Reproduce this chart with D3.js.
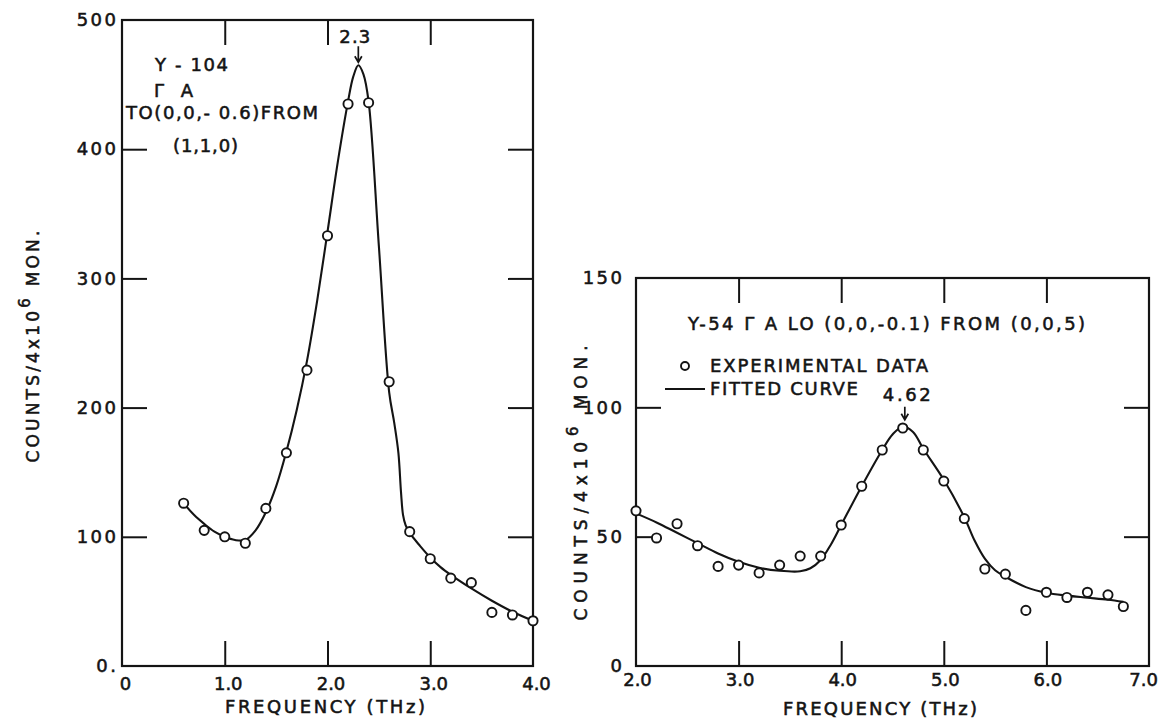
<!DOCTYPE html>
<html>
<head>
<meta charset="utf-8">
<script src="https://cdn.jsdelivr.net/npm/d3@7"></script>
<style>
  body { margin: 0; background: #fff; }
  svg text { font-family: "DejaVu Sans", sans-serif; fill: #141414; stroke: #141414; stroke-width: 0.55px; }
</style>
</head>
<body>
<svg id="fig" width="1159" height="721"></svg>
<script>
// ---- Panel A: Y-104, ΓA  TO(0,0,-0.6) from (1,1,0) ----
const leftFreq   = [0.6, 0.8, 1.0, 1.2, 1.4, 1.6, 1.8, 2.0, 2.2, 2.4, 2.6, 2.8, 3.0, 3.2, 3.4, 3.6, 3.8, 4.0];
const leftCounts = [126, 105, 100, 95, 122, 165, 229, 333, 435, 436, 220, 104, 83, 68, 64.5, 41.5, 39.5, 35];
const leftFitFreq   = [0.6, 0.7, 0.8, 0.9, 1.0, 1.1, 1.2, 1.3, 1.4, 1.5, 1.6, 1.7, 1.8, 1.9, 2.0, 2.1, 2.2, 2.25, 2.3, 2.35, 2.4, 2.5, 2.6, 2.65, 2.69, 2.715, 2.735, 2.76, 2.8, 2.9, 3.0, 3.1, 3.2, 3.4, 3.6, 3.8, 4.0];
const leftFitCounts = [126, 117, 110, 104, 100, 97.5, 97.5, 105, 119, 139, 166, 198, 236, 283, 336, 390, 437, 456, 465, 458, 437, 325, 212, 188, 165, 135, 117, 109, 103, 93, 84, 76.5, 70.5, 60, 50.5, 42, 35];
const leftPeak = 2.3;
const leftXTicks = [0, 1, 2, 3, 4];
const leftXLabels = ["0", "1.0", "2.0", "3.0", "4.0"];
const leftYTicks = [0, 100, 200, 300, 400, 500];
const leftYLabels = ["0.", "100", "200", "300", "400", "500"];
const leftTitle = ["Y - 104", "Γ A", "TO(0,0,- 0.6)FROM", "(1,1,0)"];

// ---- Panel B: Y-54, ΓA  LO (0,0,-0.1) from (0,0,5) ----
const rightFreq   = [2.0, 2.2, 2.4, 2.6, 2.8, 3.0, 3.2, 3.4, 3.6, 3.8, 4.0, 4.2, 4.4, 4.6, 4.8, 5.0, 5.2, 5.4, 5.6, 5.8, 6.0, 6.2, 6.4, 6.6, 6.75];
const rightCounts = [60, 49.5, 55, 46.5, 38.5, 39, 36, 39, 42.5, 42.5, 54.5, 69.5, 83.5, 92, 83.5, 71.5, 57, 37.5, 35.5, 21.5, 28.5, 26.5, 28.5, 27.5, 23];
const rightFitFreq   = [2.0, 2.2, 2.4, 2.6, 2.8, 3.0, 3.2, 3.4, 3.6, 3.7, 3.8, 3.9, 4.0, 4.2, 4.4, 4.5, 4.6, 4.7, 4.8, 5.0, 5.2, 5.3, 5.4, 5.5, 5.6, 5.8, 6.0, 6.2, 6.4, 6.6, 6.75];
const rightFitCounts = [59, 55.5, 51.5, 47.5, 43.5, 40.3, 38, 36.8, 36.6, 37.8, 41, 47, 54.5, 69.5, 83.5, 89.5, 92.5, 90.5, 84, 72, 57.5, 48.5, 41.5, 37, 34.5, 30.5, 28.3, 27.2, 26.4, 25.6, 24.8];
const rightPeak = 4.62;
const rightXTicks = [2, 3, 4, 5, 6, 7];
const rightXLabels = ["2.0", "3.0", "4.0", "5.0", "6.0", "7.0"];
const rightYTicks = [0, 50, 100, 150];
const rightYLabels = ["0", "50", "100", "150"];
const rightTitle = "Y-54  Γ A  LO (0,0,-0.1) FROM (0,0,5)";
const legendLabels = ["EXPERIMENTAL DATA", "FITTED CURVE"];

const xTitle = "FREQUENCY (THz)";
const yTitleMain = "COUNTS/4x10", yTitleSup = "6", yTitleEnd = " MON.";
const ink = "#141414";
const W = 1159;

const svg = d3.select("#fig");

// spread a text's glyphs so its visible width equals `w`
function fitWidth(sel, w) {
  sel.each(function () {
    const n = this.textContent.length;
    const nat = this.getComputedTextLength();
    if (n > 1) d3.select(this).attr("letter-spacing", (w - nat) / (n - 1));
  });
  return sel;
}

function panel(cfg) {
  const g = svg.append("g");
  const x = d3.scaleLinear().domain(cfg.xDomain).range(cfg.xRange);
  const y = d3.scaleLinear().domain(cfg.yDomain).range(cfg.yRange);
  const [x0, x1] = cfg.xRange, [y0, y1] = cfg.yRange;

  // frame
  g.append("rect").attr("x", x0).attr("y", y1).attr("width", x1 - x0).attr("height", y0 - y1)
    .attr("fill", "none").attr("stroke", ink).attr("stroke-width", 2.2);

  // inward tick marks on all four sides
  const inner = cfg.xTicks.slice(1, -1), innerY = cfg.yTicks.slice(1, -1);
  const markAxes = [
    [d3.axisBottom(x).tickValues(inner), `translate(0,${y0})`],
    [d3.axisTop(x).tickValues(inner), `translate(0,${y1})`],
    [d3.axisLeft(y).tickValues(innerY), `translate(${x0},0)`],
    [d3.axisRight(y).tickValues(innerY), `translate(${x1},0)`]
  ];
  markAxes.forEach(([ax, tr]) => {
    const a = g.append("g").attr("transform", tr)
      .call(ax.tickSize(-cfg.tickLen).tickFormat(""));
    a.select(".domain").remove();
    a.selectAll("line").attr("stroke", ink).attr("stroke-width", 2);
  });

  // tick labels
  const xa = g.append("g").attr("transform", `translate(0,${y0})`)
    .call(d3.axisBottom(x).tickValues(cfg.xTicks).tickSize(0).tickPadding(cfg.xPad)
      .tickFormat((d, i) => cfg.xLabels[i]));
  xa.select(".domain").remove();
  xa.selectAll("text").attr("font-size", 18).attr("font-family", null).attr("fill", ink)
    .attr("dx", cfg.xLabelDx || 0);
  // keep the outermost label inside the page
  xa.selectAll("text").each(function () {
    const b = this.getBoundingClientRect();
    if (b.right > W - 1) d3.select(this).attr("dx", (cfg.xLabelDx || 0) - (b.right - (W - 1)));
  });

  const ya = g.append("g").attr("transform", `translate(${x0},0)`)
    .call(d3.axisLeft(y).tickValues(cfg.yTicks).tickSize(0).tickPadding(cfg.yPad)
      .tickFormat((d, i) => cfg.yLabels[i]));
  ya.select(".domain").remove();
  ya.selectAll("text").attr("font-size", 18).attr("font-family", null).attr("fill", ink)
    .attr("letter-spacing", 2.5).attr("dx", 2.5);

  // fitted curve
  const line = d3.line().x(d => x(d[0])).y(d => y(d[1])).curve(d3.curveCatmullRom.alpha(0.5));
  g.append("path").datum(d3.zip(cfg.fitX, cfg.fitY)).attr("d", line)
    .attr("fill", "none").attr("stroke", ink).attr("stroke-width", 2.1);

  // measured points
  g.selectAll("circle.pt").data(d3.zip(cfg.ptX, cfg.ptY)).join("circle").attr("class", "pt")
    .attr("cx", d => x(d[0])).attr("cy", d => y(d[1])).attr("r", 4.6)
    .attr("fill", "#fff").attr("stroke", ink).attr("stroke-width", 1.9);

  // peak marker
  const px = x(cfg.peak), py = y(d3.max(cfg.fitY));
  const tip = py - cfg.arrowGap, tail = tip - cfg.arrowLen;
  g.append("path")
    .attr("d", `M${px},${tail}V${tip}M${px - 3.5},${tip - 6}L${px},${tip}L${px + 3.5},${tip - 6}`)
    .attr("fill", "none").attr("stroke", ink).attr("stroke-width", 1.7);
  const pl = g.append("text").attr("x", px + cfg.peakDx).attr("y", tail - cfg.peakLift)
    .attr("font-size", 18).attr("text-anchor", "start").text(String(cfg.peak));
  fitWidth(pl, cfg.peakW);

  // x title
  fitWidth(g.append("text").attr("x", cfg.xTitle[0]).attr("y", cfg.xTitle[2]).attr("font-size", 18)
    .text(xTitle), cfg.xTitle[1]);

  // y title (rotated)
  const yt = g.append("text")
    .attr("transform", `translate(${cfg.yTitle[0]},${cfg.yTitle[1]}) rotate(-90)`)
    .attr("text-anchor", "middle").attr("font-size", 17);
  yt.append("tspan").text(yTitleMain);
  yt.append("tspan").attr("dy", -9).attr("font-size", 15).text(yTitleSup);
  yt.append("tspan").attr("dy", 9).text(yTitleEnd);
  const nat = yt.node().getComputedTextLength();
  yt.attr("letter-spacing", (cfg.yTitle[2] - nat) / 16);

  return { g, x, y };
}

// ---- left panel ----
const L = panel({
  xDomain: [0, 4], xRange: [122, 533], yDomain: [0, 500], yRange: [666, 20],
  xTicks: leftXTicks, xLabels: leftXLabels, yTicks: leftYTicks, yLabels: leftYLabels,
  tickLen: 25, xPad: 11, yPad: 6, xLabelDx: 3,
  fitX: leftFitFreq, fitY: leftFitCounts, ptX: leftFreq, ptY: leftCounts,
  peak: leftPeak, arrowGap: 3, arrowLen: 16, peakDx: -19, peakLift: 3, peakW: 31,
  xTitle: [225, 200, 713], yTitle: [39, 345, 232]
});
const leftLines = [[155, 73, 71], [154, 39, 97], [126, 192, 119], [173, 65, 152]];
leftTitle.forEach((t, i) => {
  const [lx, lw, ly] = leftLines[i];
  fitWidth(L.g.append("text").attr("x", lx).attr("y", ly).attr("font-size", 18).text(t), lw);
});

// ---- right panel ----
const R = panel({
  xDomain: [2, 7], xRange: [636, 1149], yDomain: [0, 150], yRange: [666, 278],
  xTicks: rightXTicks, xLabels: rightXLabels, yTicks: rightYTicks, yLabels: rightYLabels,
  tickLen: 25, xPad: 7, yPad: 14, xLabelDx: 1,
  fitX: rightFitFreq, fitY: rightFitCounts, ptX: rightFreq, ptY: rightCounts,
  peak: rightPeak, arrowGap: 7, arrowLen: 13, peakDx: -22, peakLift: 6, peakW: 48,
  xTitle: [783, 194, 715], yTitle: [587, 480, 275]
});
fitWidth(R.g.append("text").attr("x", 688).attr("y", 330).attr("font-size", 18).text(rightTitle), 402);

// legend
R.g.append("circle").attr("cx", 685).attr("cy", 366).attr("r", 4)
  .attr("fill", "#fff").attr("stroke", ink).attr("stroke-width", 1.9);
R.g.append("line").attr("x1", 665).attr("x2", 705).attr("y1", 389).attr("y2", 389)
  .attr("stroke", ink).attr("stroke-width", 2);
fitWidth(R.g.append("text").attr("x", 710).attr("y", 372).attr("font-size", 18).text(legendLabels[0]), 218);
fitWidth(R.g.append("text").attr("x", 710).attr("y", 395).attr("font-size", 18).text(legendLabels[1]), 148);
</script>
</body>
</html>
